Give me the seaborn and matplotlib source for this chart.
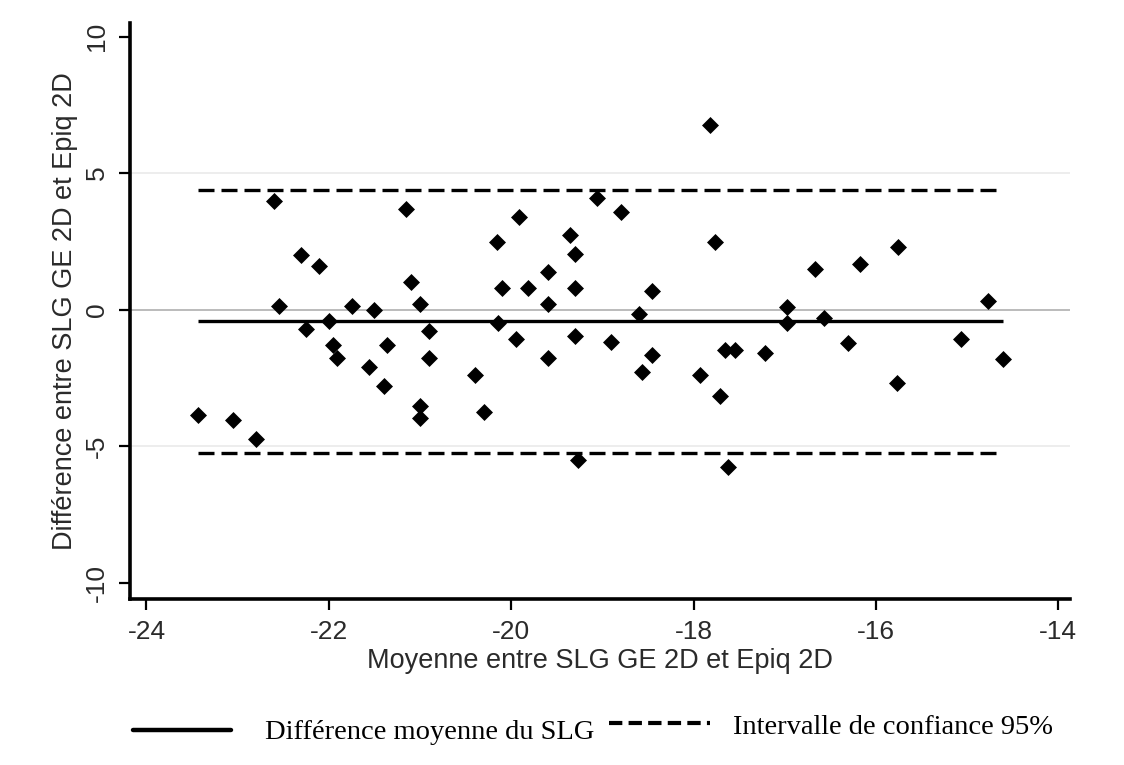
import matplotlib
matplotlib.use("Agg")
import matplotlib.pyplot as plt
from matplotlib.lines import Line2D
import pandas as pd
import seaborn as sns

# Bland-Altman data
moyenne = [-23.44, -23.05, -22.80, -22.60, -22.55, -22.30, -22.25, -22.11, -22.00, -21.95,
           -21.91, -21.75, -21.56, -21.50, -21.40, -21.36, -21.15, -21.10, -21.00, -21.00,
           -21.00, -20.90, -20.90, -20.40, -20.30, -20.16, -20.10, -20.14, -19.95, -19.91,
           -19.81, -19.60, -19.60, -19.60, -19.36, -19.30, -19.30, -19.30, -19.27, -19.06,
           -18.91, -18.80, -18.60, -18.56, -18.46, -18.46, -17.93, -17.82, -17.76, -17.71,
           -17.65, -17.62, -17.55, -17.22, -16.97, -16.97, -16.67, -16.57, -16.31, -16.17,
           -15.76, -15.77, -15.07, -14.77, -14.61]
difference = [-3.87, -4.05, -4.74, 3.99, 0.12, 2.01, -0.70, 1.61, -0.43, -1.28,
              -1.77, 0.12, -2.10, 0.00, -2.78, -1.28, 3.69, 1.03, 0.22, -3.54,
              -3.97, -0.79, -1.77, -2.38, -3.76, 2.47, 0.79, -0.49, -1.07, 3.40,
              0.79, 1.38, 0.22, -1.75, 2.72, 2.04, 0.79, -0.95, -5.49, 4.09,
              -1.18, 3.58, -0.16, -2.28, 0.70, -1.67, -2.38, 6.78, 2.47, -3.17,
              -1.49, -5.76, -1.49, -1.59, 0.10, -0.49, 1.49, -0.31, -1.20, 1.68,
              2.28, -2.69, -1.07, 0.31, -1.80]

mean_diff = -0.43
upper_loa = 4.37
lower_loa = -5.25

x_ticks = [-24, -22, -20, -18, -16, -14]
y_ticks = [-10, -5, 0, 5, 10]

df = pd.DataFrame({"moyenne": moyenne, "difference": difference})

sns.set_theme(style="white")
plt.rcParams["font.family"] = ["Liberation Sans", "DejaVu Sans"]

fig = plt.figure(figsize=(11.24, 7.65), dpi=100)
ax = fig.add_axes([0.1157, 0.217, 0.8363, 0.753])

# reference lines at the y ticks
for yv in [-5, 5]:
    ax.axhline(yv, color="#ececec", lw=1.3, zorder=0)
ax.axhline(0, color="#b5b5b5", lw=1.3, zorder=0)

x0, x1 = df["moyenne"].min(), df["moyenne"].max()
ax.hlines(mean_diff, x0, x1, color="black", lw=2.4, zorder=2)
ax.hlines([upper_loa, lower_loa], x0, x1, color="black", lw=2.4,
          linestyles=(0, (4.8, 2.1)), zorder=2)

sns.scatterplot(data=df, x="moyenne", y="difference", marker="D", s=75,
                color="black", linewidth=0, ax=ax, zorder=3)

ax.set_xlim(-24.18, -13.87)
ax.set_ylim(-10.59, 10.5)
ax.set_xticks(x_ticks)
ax.set_yticks(y_ticks)
ax.set_xticklabels([str(v) for v in x_ticks])
ax.set_yticklabels([str(v) for v in y_ticks], rotation=90, va="center")

for side in ["top", "right"]:
    ax.spines[side].set_visible(False)
for side in ["left", "bottom"]:
    ax.spines[side].set_linewidth(2.6)
    ax.spines[side].set_color("black")

ax.tick_params(axis="both", length=8, width=1.6, color="black",
               labelsize=19, labelcolor="#2a2a2a", pad=7, left=True, bottom=True)

ax.set_xlabel("Moyenne entre SLG GE 2D et Epiq 2D", fontsize=19.5, color="#2a2a2a", labelpad=3)
ax.set_ylabel("Différence entre SLG GE 2D et Epiq 2D", fontsize=19.5, color="#2a2a2a", labelpad=5)

# legend below the chart
fig.add_artist(Line2D([0.1183, 0.2055], [0.0458, 0.0458], transform=fig.transFigure,
                      color="black", lw=3.2))
fig.text(0.2358, 0.034, "Différence moyenne du SLG", fontsize=20.5,
         family="Liberation Serif", color="black", va="baseline")
fig.add_artist(Line2D([0.5418, 0.6317], [0.0549, 0.0549], transform=fig.transFigure,
                      color="black", lw=3.0, linestyle=(0, (3.2, 1.5))))
fig.text(0.6521, 0.0405, "Intervalle de confiance 95%", fontsize=20.5,
         family="Liberation Serif", color="black", va="baseline")

fig.savefig("out.png", dpi=100, facecolor="white")
